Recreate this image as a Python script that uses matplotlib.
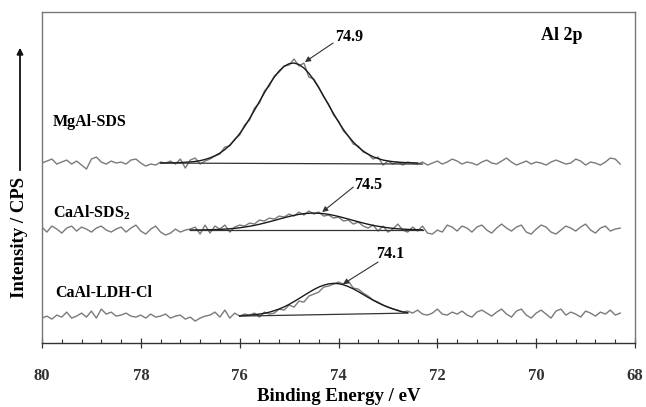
import numpy as np
import matplotlib
matplotlib.use("Agg")
import matplotlib.pyplot as plt
from matplotlib.ticker import MultipleLocator

plt.rcParams['font.family'] = ['Liberation Serif', 'DejaVu Serif']
plt.rcParams['font.weight'] = 'bold'
plt.rcParams['mathtext.fontset'] = 'custom'
plt.rcParams['mathtext.rm'] = 'Liberation Serif'
plt.rcParams['mathtext.bf'] = 'Liberation Serif:bold'

# binding energy grid of the scans (eV), 0.1 eV steps
energy_start, energy_stop = 80.0, 68.3

# raw Al 2p counts (baseline subtracted, arbitrary units)
mgal_sds = [0, 2, 4, -1, 1, 3, -1, 2, -2, -6, 4, 6, 1, -1, 2, 0, 1, -1, 3, 4,
            0, -3, -1, -2, 1, 0, 2, -1, 4, -5, 3, 5, -1, 2, 4, 7, 9, 16, 17, 24,
            28, 38, 43, 55, 60, 72, 77, 87, 91, 97, 98, 104, 97, 100, 86, 84, 76, 66, 59, 48,
            42, 32, 27, 19, 17, 11, 9, 4, 6, -2, 2, -1, 1, -2, 1, 0, -1, 1, -2, 0,
            2, -1, 1, 4, 2, -1, 1, 0, -2, 1, 3, 0, -1, 2, 5, 1, -2, 0, 2, -1,
            1, 0, -2, 1, 3, 1, -1, 0, 4, 2, -2, 1, 0, -2, 1, 5, 4, -1]
caal_sds2 = [3, -2, 4, 1, -3, 2, 4, -1, 3, 1, -2, 2, 4, 0, -2, 1, 3, -2, 2, 5,
             -1, -4, 1, 4, -2, -5, -3, 1, -2, 0, 1, 3, -4, 5, -3, 4, 1, 5, -2, 3,
             5, 4, 7, 6, 10, 9, 12, 11, 14, 13, 16, 14, 18, 15, 19, 16, 18, 14, 15, 12,
             13, 9, 10, 6, 8, 4, 2, 5, -1, 4, -2, 1, 6, 0, -2, 3, -1, 4, -3, -4,
             0, -2, 5, 3, -1, 4, 2, -2, 3, 5, 0, -3, 2, 6, 2, -1, 3, 5, -2, -4,
             1, 5, 3, -2, -4, 0, 4, 2, -1, 3, 6, 0, -3, 2, 4, -1, 1, 2]
caal_ldh_cl = [-3, -1, -4, 0, -2, 3, -3, -1, 2, -2, 4, -3, 6, 1, 3, -1, 0, 2, -1, -2,
               0, -3, 1, -2, -1, 1, -3, -1, 0, -4, -2, -6, -3, -1, 0, 3, -2, 5, -3, 2,
               -1, 1, 0, 2, -2, 3, 1, 2, 6, 5, 10, 8, 14, 13, 19, 21, 23, 28, 29, 31,
               33, 31, 34, 27, 26, 22, 19, 15, 13, 10, 8, 6, 5, 3, 4, 2, 5, 1, 0, 2,
               6, 1, 0, 3, 1, 4, 0, -2, 3, 5, 2, -1, 3, 6, 1, -2, 4, 6, 0, -3,
               2, 5, 1, -3, 4, 6, 0, 3, 1, -2, 4, 2, -1, 3, 1, 5, 0, 2]

# fitted components (incl. background)
mgal_fit_range = (77.6, 72.4)
mgal_fit = [0, 0.1, 0.2, 0.3, 0.5, 0.8, 1.1, 1.6, 2.4, 3.6, 5.2, 7.3, 10.0, 13.5, 17.9, 23.2,
            29.4, 36.5, 44.4, 52.8, 61.5, 70.2, 78.5, 85.9, 92.1, 96.7, 99.3, 100, 98.5, 95,
            89.8, 83.1, 75.3, 66.8, 58, 49.4, 41.1, 33.5, 26.8, 21, 16, 12, 8.8, 6.3, 4.5,
            3, 2.1, 1.4, 0.9, 0.6, 0.4, 0.2, 0.1]
sds2_fit_range = (77.0, 72.3)
sds2_fit = [0.07, 0.1, 0.15, 0.23, 0.34, 0.48, 0.7, 0.95, 1.3, 1.7, 2.3, 3.0, 3.8, 4.7, 5.8,
            7.0, 8.3, 9.6, 11.0, 12.3, 13.6, 14.7, 15.7, 16.4, 16.8, 17, 16.8, 16.4, 15.7,
            14.7, 13.6, 12.3, 11.0, 9.6, 8.3, 7.0, 5.8, 4.7, 3.8, 3.0, 2.3, 1.7, 1.3, 0.95,
            0.7, 0.48, 0.34, 0.23]
ldh_fit_range = (76.0, 72.6)
ldh_fit = [-0.7, -0.4, -0.1, 0.4, 1.0, 1.8, 2.9, 4.4, 6.1, 8.2, 10.7, 13.5, 16.5, 19.6,
           22.6, 25.5, 28.0, 29.9, 31.2, 31.7, 31.4, 30.3, 28.5, 26.2, 23.5, 20.6, 17.7,
           14.9, 12.3, 10.0, 8.0, 6.3, 4.5, 3.2, 2.4]

# linear backgrounds: (E_start, I_start, E_end, I_end)
mgal_bg = (77.6, 0, 72.3, -1)
sds2_bg = (77.0, 0, 72.3, 0)
ldh_bg = (76.0, -1, 72.6, 2)

# vertical stacking offsets
offsets = {'MgAl-SDS': 180, 'CaAl-SDS$_\\mathbf{2}$': 113, 'CaAl-LDH-Cl': 28}
name_pos = [(79.78, 221), (79.78, 130), (79.74, 50)]

peak_labels = ['74.9', '74.5', '74.1']
peak_pos = [(74.68, 281), (74.33, 131), (73.91, 59)]
arrow_start = [(74.11, 300), (73.70, 156), (73.20, 81)]
peak_text = [(73.79, 306), (73.39, 158), (72.96, 89)]

trace_color = '#7a7a7a'
fit_color = '#1a1a1a'

fig = plt.figure(figsize=(6.46, 4.07), dpi=100)
ax = fig.add_axes([0.065, 0.157, 0.918, 0.8135])

spectra = [
    (mgal_sds, mgal_fit_range, mgal_fit, mgal_bg),
    (caal_sds2, sds2_fit_range, sds2_fit, sds2_bg),
    (caal_ldh_cl, ldh_fit_range, ldh_fit, ldh_bg),
]

for (name, off), (raw, frange, fit, bg), npos in zip(offsets.items(), spectra, name_pos):
    e = np.linspace(energy_start, energy_stop, len(raw))
    ax.plot(e, np.array(raw) + off, color=trace_color, lw=1.0, zorder=2)
    ef = np.linspace(frange[0], frange[1], len(fit))
    ax.plot(ef, np.array(fit) + off, color=fit_color, lw=1.0, zorder=3)
    ax.plot([bg[0], bg[2]], [bg[1] + off, bg[3] + off], color='#333333', lw=0.9, zorder=3)
    ax.text(npos[0], npos[1], name, fontsize=11.5, fontweight='bold', va='center', ha='left')

ax.text(69.49, 308, 'Al 2p', fontsize=13, fontweight='bold', va='center', ha='center')

for lab, xy, st, tx in zip(peak_labels, peak_pos, arrow_start, peak_text):
    ax.annotate('', xy=xy, xytext=st,
                arrowprops=dict(arrowstyle='-|>', color='#333333', lw=0.8,
                                mutation_scale=8, shrinkA=0, shrinkB=0))
    ax.text(tx[0], tx[1], lab, fontsize=11.5, fontweight='bold', ha='center', va='center')

ax.set_xlim(80, 68)
ax.set_ylim(0, 331)
ax.xaxis.set_major_locator(MultipleLocator(2))
ax.xaxis.set_minor_locator(MultipleLocator(0.4))
ax.tick_params(axis='x', which='major', direction='inout', length=7, width=0.9,
               colors='#333333', labelsize=12, pad=14.5)
ax.tick_params(axis='x', which='minor', direction='in', length=3, width=0.8, colors='#333333')
for lbl in ax.get_xticklabels():
    lbl.set_fontweight('bold')
ax.set_yticks([])
for s in ax.spines.values():
    s.set_color('#777777')
    s.set_linewidth(1.0)
ax.spines['bottom'].set_color('#333333')

ax.set_xlabel('Binding Energy / eV', fontsize=13.5, fontweight='bold', labelpad=2.5)

# y label with upward arrow
fig.text(20 / 646, 1 - 238 / 407, 'Intensity / CPS', rotation=90, fontsize=13.5,
         fontweight='bold', ha='center', va='center')
fig.add_artist(matplotlib.patches.FancyArrowPatch(
    (20 / 646, 1 - 173 / 407), (20 / 646, 1 - 45 / 407), transform=fig.transFigure,
    arrowstyle='-|>', mutation_scale=9, color='#111111', lw=1.3))

fig.savefig('out.png', dpi=100)
